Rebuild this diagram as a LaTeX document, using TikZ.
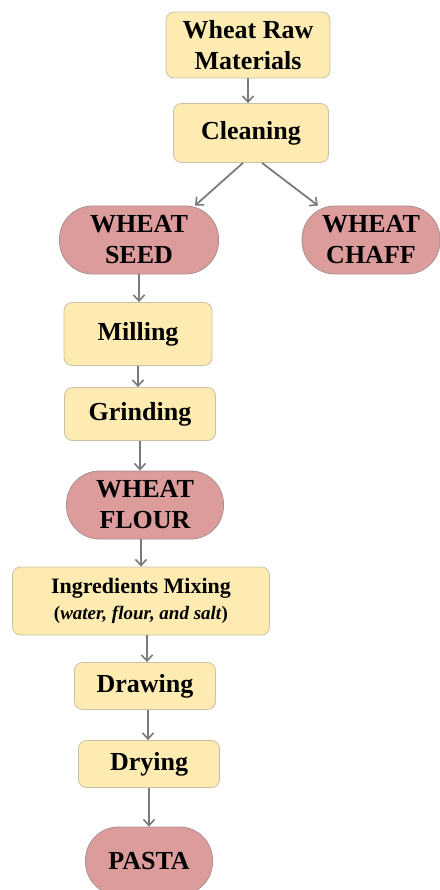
\documentclass[tikz,border=0pt]{standalone}
\usepackage{fontspec}
\setmainfont{Liberation Serif}
\usetikzlibrary{arrows.meta}
\definecolor{boxfill}{HTML}{FDEBB1}
\definecolor{boxline}{HTML}{C9C0A8}
\definecolor{podfill}{HTML}{DC9C9C}
\definecolor{podline}{HTML}{A89090}
\definecolor{arrowc}{HTML}{7A7A7A}
\tikzset{
  stepbox/.style={draw=boxline, fill=boxfill, line width=0.8pt, rounded corners=8pt,
    align=center, inner sep=0pt, font=\fontsize{26}{31}\selectfont\bfseries},
  product/.style={draw=podline, fill=podfill, line width=0.8pt, rounded corners=33pt,
    align=center, inner sep=0pt, font=\fontsize{26}{31}\selectfont\bfseries},
  flow/.style={draw=arrowc, line width=1.8pt, -{Straight Barb[length=6pt,width=11pt,line width=1.6pt]}}
}
\begin{document}
\begin{tikzpicture}[x=1pt,y=-1pt]
\useasboundingbox (0,0) rectangle (439,890);
\node[stepbox, minimum width=164pt, minimum height=66pt] (raw) at (248,45) {Wheat Raw\\Materials};
\node[stepbox, minimum width=155pt, minimum height=59pt] (clean) at (251,133) {Cleaning};
\node[product, minimum width=159pt, minimum height=68pt] (seed) at (139,240) {WHEAT\\SEED};
\node[product, minimum width=138pt, minimum height=68pt] (chaff) at (371,240) {WHEAT\\CHAFF};
\node[stepbox, minimum width=148pt, minimum height=63pt] (mill) at (138,334) {Milling};
\node[stepbox, minimum width=151pt, minimum height=53pt] (grind) at (140,414) {Grinding};
\node[product, minimum width=157pt, minimum height=68pt] (flour) at (145,505) {WHEAT\\FLOUR};
\node[stepbox, minimum width=257pt, minimum height=68pt] (mix) at (141,601)
  {{\fontsize{22}{25}\selectfont Ingredients Mixing}\\[-5pt]{\fontsize{19}{22}\selectfont(\textit{water, flour, and salt})}};
\node[stepbox, minimum width=141pt, minimum height=47pt] (draw) at (145,686) {Drawing};
\node[stepbox, minimum width=141pt, minimum height=47pt] (dry) at (149,764) {Drying};
\node[product, minimum width=127pt, minimum height=68pt] (pasta) at (149,861) {PASTA};

\draw[flow] (raw.south) -- (raw.south |- clean.north);
\draw[flow] ([xshift=-8pt]clean.south) -- ([xshift=56pt]seed.north);
\draw[flow] ([xshift=11pt]clean.south) -- ([xshift=-53pt]chaff.north);
\draw[flow] (seed.south) -- (seed.south |- mill.north);
\draw[flow] (mill.south) -- (mill.south |- grind.north);
\draw[flow] (grind.south) -- (grind.south |- flour.north);
\draw[flow] (flour.south -| mix.north) -- (mix.north);
\draw[flow] ([xshift=6pt]mix.south) -- ([xshift=6pt]mix.south |- draw.north);
\draw[flow] ([xshift=3pt]draw.south) -- ([xshift=3pt]draw.south |- dry.north);
\draw[flow] (dry.south) -- (pasta.north);
\end{tikzpicture}
\end{document}
